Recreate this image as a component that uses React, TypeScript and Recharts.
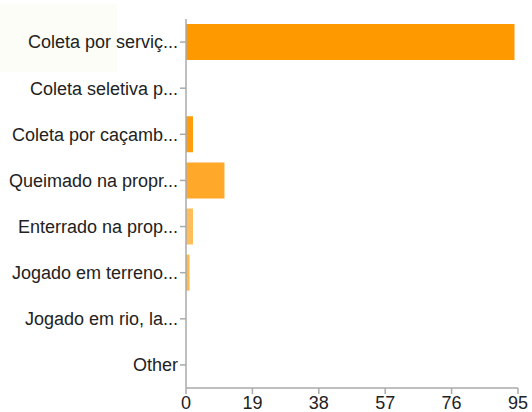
import React from "react";
import { BarChart, Bar, XAxis, YAxis, Cell } from "recharts";

const categories = [
  "Coleta por serviç...",
  "Coleta seletiva p...",
  "Coleta por caçamb...",
  "Queimado na propr...",
  "Enterrado na prop...",
  "Jogado em terreno...",
  "Jogado em rio, la...",
  "Other",
];
const values = [94, 0, 2, 11, 2, 1, 0, 0];
const barColors = ["#ff9900", "#ff9900", "#ff9d0e", "#ffa82a", "#ffbe5c", "#ffb84a", "#ffc266", "#ffc266"];
const xTicks = [0, 19, 38, 57, 76, 95];

const data = categories.map((name, i) => ({ name, value: values[i] }));

const font = "'Liberation Sans', Arial, Helvetica, sans-serif";

export default function App() {
  return (
    <div style={{ position: "absolute", left: 0, top: 0, width: 532, height: 412, background: "#fff" }}>
      <div style={{ position: "absolute", left: 0, top: 4, width: 117, height: 68, background: "#fdfdf7" }} />
      <div style={{ position: "absolute", left: 0, top: 0 }}>
        <BarChart
          width={532}
          height={412}
          data={data}
          layout="vertical"
          margin={{ top: 19, right: 14, left: 0, bottom: 0 }}
          barSize={36}
        >
          <XAxis
            type="number"
            domain={[0, 95]}
            ticks={xTicks}
            interval={0}
            height={24}
            axisLine={{ stroke: "#aaa", strokeWidth: 1.5 }}
            tickLine={{ stroke: "#aaa", strokeWidth: 1.5 }}
            tickSize={6}
            tick={{ fill: "#222", fontSize: 18, fontFamily: font }}
          />
          <YAxis
            type="category"
            dataKey="name"
            width={186}
            interval={0}
            axisLine={{ stroke: "#aaa", strokeWidth: 1.5 }}
            tickLine={{ stroke: "#aaa", strokeWidth: 1.5 }}
            tickSize={6}
            tick={{ fill: "#222", fontSize: 18, fontFamily: font }}
          />
          <Bar dataKey="value" isAnimationActive={false}>
            {data.map((d, i) => (
              <Cell key={d.name} fill={barColors[i]} />
            ))}
          </Bar>
        </BarChart>
      </div>
    </div>
  );
}
